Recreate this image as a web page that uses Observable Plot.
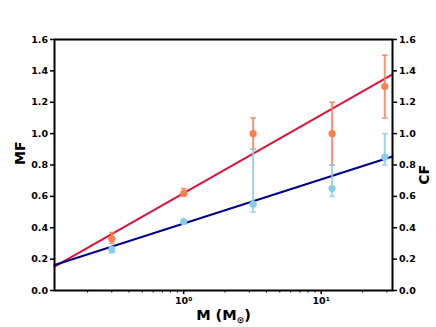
<!DOCTYPE html>
<html><head><meta charset="utf-8">
<script src="https://cdn.jsdelivr.net/npm/d3@7"></script>
<script src="https://cdn.jsdelivr.net/npm/@observablehq/plot@0.6"></script>
<style>body{margin:0;background:#fff}</style>
</head><body><div id="chart"></div>
<script>
const mass = [0.3, 1, 3.2, 12, 29];
const mfValues = [0.33, 0.62, 1.0, 1.0, 1.3];
const mfLow = [0.30, 0.60, 0.90, 0.80, 1.10];
const mfHigh = [0.37, 0.65, 1.10, 1.20, 1.50];
const cfValues = [0.26, 0.44, 0.55, 0.65, 0.85];
const cfLow = [0.24, 0.43, 0.50, 0.60, 0.80];
const cfHigh = [0.28, 0.45, 0.90, 0.80, 1.00];
const fitMass = [0.115, 33];
const mfFit = [0.152, 1.378];
const cfFit = [0.163, 0.854];
const yTicks = [0, 0.2, 0.4, 0.6, 0.8, 1.0, 1.2, 1.4, 1.6];
const xMajorTicks = [1, 10];
const xMajorLabels = ["10⁰", "10¹"];
const xMinorTicks = [0.2, 0.3, 0.4, 0.5, 0.6, 0.7, 0.8, 0.9, 2, 3, 4, 5, 6, 7, 8, 9, 20, 30];

const mfData = mass.map((m, i) => ({m, v: mfValues[i], lo: mfLow[i], hi: mfHigh[i]}));
const cfData = mass.map((m, i) => ({m, v: cfValues[i], lo: cfLow[i], hi: cfHigh[i]}));
const mfLine = fitMass.map((m, i) => ({m, v: mfFit[i]}));
const cfLine = fitMass.map((m, i) => ({m, v: cfFit[i]}));

const orange = "#FF7F50", sky = "#87CEEB";
const capSymbol = {draw(ctx, size) { const w = Math.sqrt(size / Math.PI); ctx.moveTo(-w, 0); ctx.lineTo(w, 0); }};

function errMarks(data, color) {
  return [
    Plot.ruleX(data, {x: "m", y1: "lo", y2: "hi", stroke: color, strokeWidth: 2, strokeOpacity: 0.85}),
    Plot.dot(data, {x: "m", y: "lo", symbol: capSymbol, r: 2.8, fill: "none", stroke: color, strokeWidth: 1.5, strokeOpacity: 0.85}),
    Plot.dot(data, {x: "m", y: "hi", symbol: capSymbol, r: 2.8, fill: "none", stroke: color, strokeWidth: 1.5, strokeOpacity: 0.85}),
    Plot.dot(data, {x: "m", y: "v", r: 3.6, fill: color, stroke: "none"})
  ];
}

const yAxisOpts = {tickSize: 4, tickPadding: 2.5, strokeWidth: 1.5, tickFormat: d3.format(".1f"), label: null};

const chart = Plot.plot({
  width: 436, height: 327,
  marginLeft: 54, marginRight: 44, marginTop: 39, marginBottom: 37,
  style: {fontFamily: "DejaVu Sans", fontWeight: "bold", fontSize: "9.5px", color: "black", background: "white"},
  x: {type: "log", domain: [0.115, 33]},
  y: {domain: [0, 1.6]},
  marks: [
    Plot.line(mfLine, {x: "m", y: "v", stroke: "#DC143C", strokeWidth: 2}),
    Plot.line(cfLine, {x: "m", y: "v", stroke: "#00008B", strokeWidth: 2}),
    ...errMarks(mfData, orange),
    ...errMarks(cfData, sky),
    Plot.axisY(yTicks, {anchor: "left", ...yAxisOpts}),
    Plot.axisY(yTicks, {anchor: "right", ...yAxisOpts}),
    Plot.axisX(xMajorTicks, {tickSize: 4, tickPadding: 3, strokeWidth: 1.5, label: null,
      tickFormat: d => xMajorLabels[xMajorTicks.indexOf(d)]}),
    Plot.axisX(xMinorTicks, {tickSize: 2.5, strokeWidth: 1, label: null, tickFormat: () => ""}),
    Plot.frame({stroke: "black", strokeWidth: 2}),
    Plot.text(["MF"], {text: d => d, frameAnchor: "left", dx: -34, rotate: -90, fontSize: 14, fontWeight: "bold"}),
    Plot.text(["CF"], {text: d => d, frameAnchor: "right", dx: 32, rotate: -90, fontSize: 14, fontWeight: "bold"}),
    Plot.text(["M (M"], {text: d => d, frameAnchor: "bottom", dy: 29, fontSize: 14.5, fontWeight: "bold"})
  ]
});
document.getElementById("chart").appendChild(chart);

d3.select(chart).selectAll("text").each(function() {
  if (this.textContent === "M (M") {
    const lbl = d3.select(this);
    lbl.text(null);
    lbl.append("tspan").text("M (M");
    lbl.append("tspan").attr("font-size", 9).attr("dy", 3).text("⊙");
    lbl.append("tspan").attr("dy", -3).text(")");
  }
});
</script>
</body></html>
